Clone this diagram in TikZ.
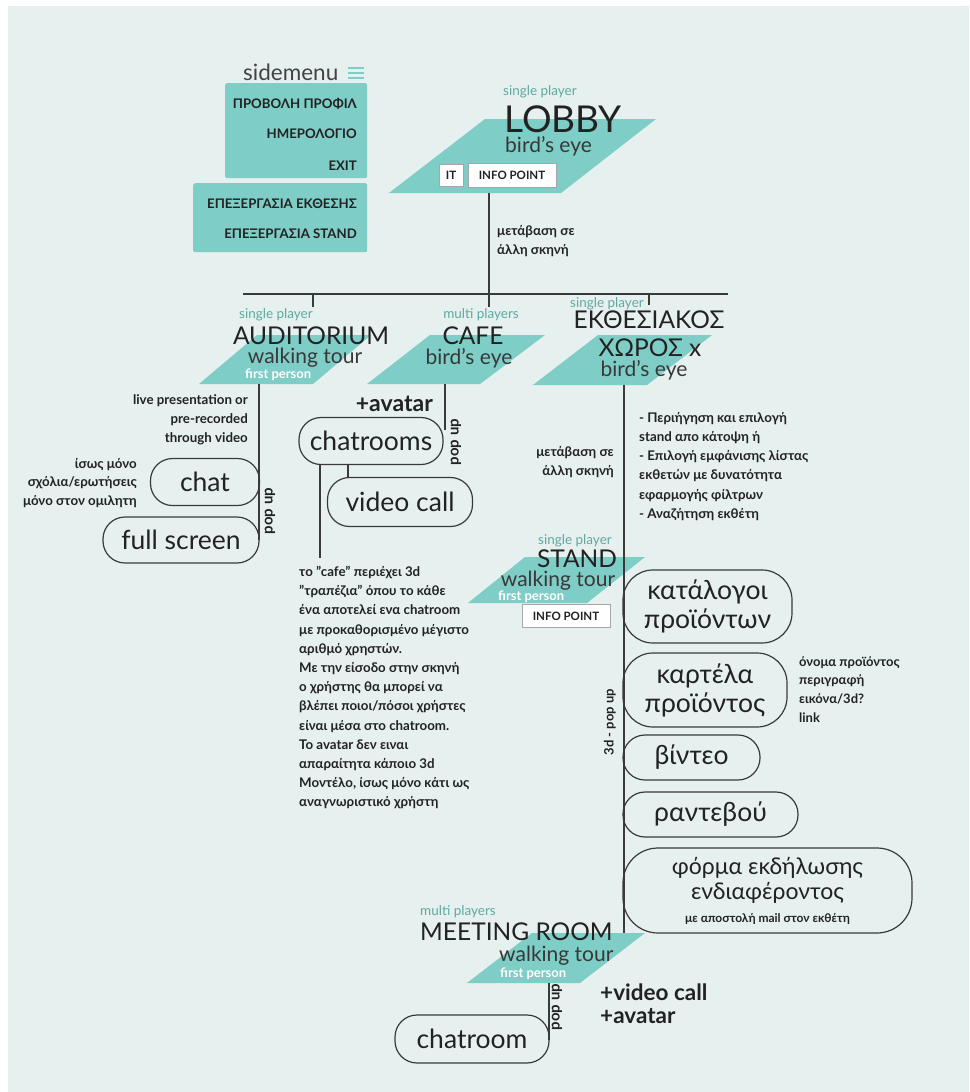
\documentclass[tikz,border=0pt]{standalone}
\usepackage{fontspec}
\setmainfont{Lato}
\definecolor{bgc}{HTML}{E6F0EE}
\definecolor{tealf}{HTML}{7ECDC6}
\definecolor{tealt}{HTML}{5EA9A2}
\definecolor{ink}{HTML}{222222}
\definecolor{lnc}{HTML}{3A3A3A}
\tikzset{
  conn/.style={draw=lnc, line width=1.3},
  sptag/.style={inner sep=0, text=tealt, font=\fontsize{13.5}{15}\selectfont},
  ttl/.style={inner sep=0, text=ink, font=\fontsize{24.5}{26}\selectfont},
  subt/.style={inner sep=0, text=ink!90, font=\fontsize{21}{23}\selectfont},
  fperson/.style={inner sep=0, text=white, font=\fontsize{13}{15}\selectfont\bfseries},
  notetxt/.style={inner sep=0, text=ink, align=left, font=\fontsize{13.3}{19.2}\selectfont\bfseries},
  notertxt/.style={inner sep=0, text=ink, align=right, font=\fontsize{13.3}{19}\selectfont\bfseries},
  menuitem/.style={inner sep=0, text=ink, font=\fontsize{13.2}{15}\selectfont\bfseries},
  menubox/.style={fill=tealf, rounded corners=2, inner sep=0},
  infobox/.style={draw=gray!70, fill=white, line width=0.9, inner sep=0, text=ink, font=\fontsize{11.5}{13}\selectfont\bfseries},
  pill/.style={draw=lnc, line width=1.2, rounded corners=#1, inner sep=0, align=center, text=ink, font=\fontsize{26.5}{29}\selectfont},
  pill/.default=22,
  vtxt/.style={inner sep=0, rotate=90, text=ink, font=\fontsize{15}{16}\selectfont\bfseries},
  plus/.style={inner sep=0, text=ink, align=left, font=\fontsize{23}{25}\selectfont\bfseries},
}
\begin{document}
\begin{tikzpicture}[x=1pt,y=-1pt]
\useasboundingbox (0,0) rectangle (969,1092);
\fill[white] (0,0) rectangle (969,1092);
\fill[bgc] (8,6) rectangle (969,1092);

% ---------- sidemenu ----------
\node[anchor=base west, inner sep=0, text=ink!85, font=\fontsize{22.5}{24}\selectfont] (sm) at (243,80) {sidemenu};
\draw[tealf, line width=1.6] (348,68) -- (364,68) (348,73) -- (364,73) (348,78) -- (364,78);
\node[menubox, anchor=north west, minimum width=142, minimum height=95] (mb1) at (225,83) {};
\node[menubox, anchor=north west, minimum width=174, minimum height=69] (mb2) at (193,183) {};
\node[menuitem, anchor=base east] (m1) at (357,108) {ΠΡΟΒΟΛΗ ΠΡΟΦΙΛ};
\node[menuitem, anchor=base east] (m2) at (357,138) {ΗΜΕΡΟΛΟΓΙΟ};
\node[menuitem, anchor=base east] (m3) at (357,170) {EXIT};
\node[menuitem, anchor=base east] (m4) at (357,208) {ΕΠΕΞΕΡΓΑΣΙΑ ΕΚΘΕΣΗΣ};
\node[menuitem, anchor=base east] (m5) at (357,238) {ΕΠΕΞΕΡΓΑΣΙΑ STAND};

% ---------- parallelograms ----------
\fill[tealf] (485,119) -- (656,119) -- (561,193) -- (389,193) -- cycle;
\fill[tealf] (257,335) -- (371,335) -- (313,384) -- (199,384) -- cycle;
\fill[tealf] (430,335) -- (545,335) -- (480,384) -- (367,384) -- cycle;
\fill[tealf] (598,335) -- (712,335) -- (647,385) -- (533,385) -- cycle;
\fill[tealf] (525,557) -- (645,557) -- (587,603) -- (468,603) -- cycle;
\fill[tealf] (532,933) -- (645,933) -- (580,983) -- (467,983) -- cycle;

% ---------- coordinates ----------
\coordinate (lobbyS) at (489,193);
\coordinate (cafeT) at (489,307);
\coordinate (barL) at (243,294);
\coordinate (barR) at (728,294);
\coordinate (audJ) at (313,294);
\coordinate (audT) at (313,307);
\coordinate (expJ) at (649,294);
\coordinate (expT) at (649,305);
\coordinate (audS) at (259,384);
\coordinate (audE) at (259,540);
\coordinate (cafeS) at (445,384);
\coordinate (cafeE) at (445,430);
\coordinate (expS) at (624,385);
\coordinate (meetT) at (624,933);
\coordinate (meetS) at (549,983);
\coordinate (meetE) at (549,1040);

% ---------- LOBBY ----------
\node[sptag, anchor=base west] (lobtag) at (503,95) {single player};
\node[inner sep=0, anchor=base west, text=ink, font=\fontsize{37}{40}\selectfont] (lobby) at (504,132) {LOBBY};
\node[subt, anchor=base west] (lobsub) at (505,152) {bird’s eye};
\node[infobox, minimum width=24, minimum height=22] (it) at (451,175) {IT};
\node[infobox, minimum width=88, minimum height=24] (info1) at (512,175) {INFO POINT};
\node[notetxt, anchor=north west] (lobnote) at (497,225) {μετάβαση σε\\άλλη σκηνή};

\draw[conn] (lobbyS) -- (cafeT);
\draw[conn] (barL) -- (barR);
\draw[conn] (audJ) -- (audT);
\draw[conn] (expJ) -- (expT);

% ---------- AUDITORIUM ----------
\node[sptag, anchor=base] (audtag) at (276,318) {single player};
\node[ttl, anchor=base] (aud) at (311,344) {AUDITORIUM};
\node[subt, anchor=base] (audsub) at (305,363) {walking tour};
\node[fperson, anchor=base west] (audfp) at (245,378) {first person};
\draw[conn] (audS) -- (audE);
\node[notertxt, anchor=north east] (audnote) at (248,394) {live presentation or\\pre-recorded\\through video};
\node[notertxt, anchor=north east, font=\fontsize{13.3}{18.5}\selectfont\bfseries] (chatnote) at (137,458) {ίσως μόνο\\σχόλια/ερωτήσεις\\μόνο στον ομιλητη};
\node[pill, minimum width=109, minimum height=47] (chat) at (205,482) {chat};
\node[pill, minimum width=156, minimum height=46] (full) at (181,540) {full screen};
\node[vtxt] (audpop) at (270,511) {pop up};

% ---------- CAFE ----------
\node[sptag, anchor=base] (cafetag) at (481,318) {multi players};
\node[ttl, anchor=base] (cafe) at (473,344) {CAFE};
\node[subt, anchor=base] (cafesub) at (469,364) {bird’s eye};
\draw[conn] (cafeS) -- (cafeE);
\node[plus, anchor=base east] (avatar1) at (433,411) {+avatar};
\node[pill, minimum width=144, minimum height=47] (chatrooms) at (371,441) {chatrooms};
\node[vtxt] (cafepop) at (456,442) {pop up};
\node[pill, minimum width=145, minimum height=49] (video) at (400,502) {video call};
\coordinate (c1a) at (348,465);
\coordinate (c1b) at (348,478);
\coordinate (c2a) at (320,465);
\coordinate (c2b) at (320,558);
\draw[conn] (c1a) -- (c1b);
\draw[conn] (c2a) -- (c2b);
\node[notetxt, anchor=north west] (cafenote) at (299,566) {το "cafe" περιέχει 3d\\"τραπέζια" όπου το κάθε\\ένα αποτελεί ενα chatroom\\με προκαθορισμένο μέγιστο\\αριθμό χρηστών.\\Με την είσοδο στην σκηνή\\ο χρήστης θα μπορεί να\\βλέπει ποιοι/πόσοι χρήστες\\είναι μέσα στο chatroom.\\Το avatar δεν ειναι\\απαραίτητα κάποιο 3d\\Μοντέλο, ίσως μόνο κάτι ως\\αναγνωριστικό χρήστη};

% ---------- ΕΚΘΕΣΙΑΚΟΣ ΧΩΡΟΣ ----------
\node[sptag, anchor=base] (exptag) at (607,307) {single player};
\node[ttl, anchor=base] (exp1) at (649,328) {ΕΚΘΕΣΙΑΚΟΣ};
\node[ttl, anchor=base] (exp2) at (650,356) {ΧΩΡΟΣ x};
\node[subt, anchor=base] (expsub) at (644,376) {bird’s eye};
\draw[conn] (expS) -- (meetT);
\node[notertxt, anchor=north east] (expnote) at (614,446) {μετάβαση σε\\άλλη σκηνή};
\node[notetxt, anchor=north west] (expbul) at (639,412) {- Περιήγηση και επιλογή\\stand απο κάτοψη ή\\- Επιλογή εμφάνισης λίστας\\εκθετών με δυνατότητα\\εφαρμογής φίλτρων\\- Αναζήτηση εκθέτη};

% ---------- STAND ----------
\node[sptag, anchor=base] (standtag) at (575,544) {single player};
\node[ttl, anchor=base] (stand) at (577,567) {STAND};
\node[subt, anchor=base] (standsub) at (558,586) {walking tour};
\node[fperson, anchor=base west] (standfp) at (498,600) {first person};
\node[infobox, minimum width=88, minimum height=23] (info2) at (566,616) {INFO POINT};
\node[vtxt, font=\fontsize{13}{14}\selectfont\bfseries] (standpop) at (610,722) {3d - pop up};

\node[pill=30, minimum width=169, minimum height=73] (katal) at (707.5,606.5) {κατάλογοι\\προϊόντων};
\node[pill=30, minimum width=164, minimum height=74] (kart) at (705,690) {καρτέλα\\προϊόντος};
\node[pill, minimum width=137, minimum height=45] (vid) at (691.5,757.5) {βίντεο};
\node[pill, minimum width=175, minimum height=45] (rant) at (710.5,814.5) {ραντεβού};
\node[pill=35, minimum width=289, minimum height=85, font=\fontsize{23}{25}\selectfont] (form) at (767.5,890.5) {φόρμα εκδήλωσης\\ενδιαφέροντος\\[-2pt]{\fontsize{12}{13}\selectfont\bfseries με αποστολή mail στον εκθέτη}};
\node[notetxt, anchor=north west, font=\fontsize{13}{18.7}\selectfont\bfseries] (prodnote) at (799,656) {όνομα προϊόντος\\περιγραφή\\εικόνα/3d?\\link};

% ---------- MEETING ROOM ----------
\node[sptag, anchor=base west] (meettag) at (420,915) {multi players};
\node[ttl, anchor=base west] (meet) at (420,940) {MEETING ROOM};
\node[subt, anchor=base west] (meetsub) at (499,961) {walking tour};
\node[fperson, anchor=base west] (meetfp) at (500,977) {first person};
\draw[conn] (meetS) -- (meetE);
\node[vtxt] (meetpop) at (557,1007) {pop up};
\node[pill, minimum width=154, minimum height=48] (chatroom) at (472,1039) {chatroom};
\node[plus, anchor=north west, font=\fontsize{22.5}{22.5}\selectfont\bfseries] (plus2) at (600,984) {+video call\\+avatar};
\end{tikzpicture}
\end{document}
